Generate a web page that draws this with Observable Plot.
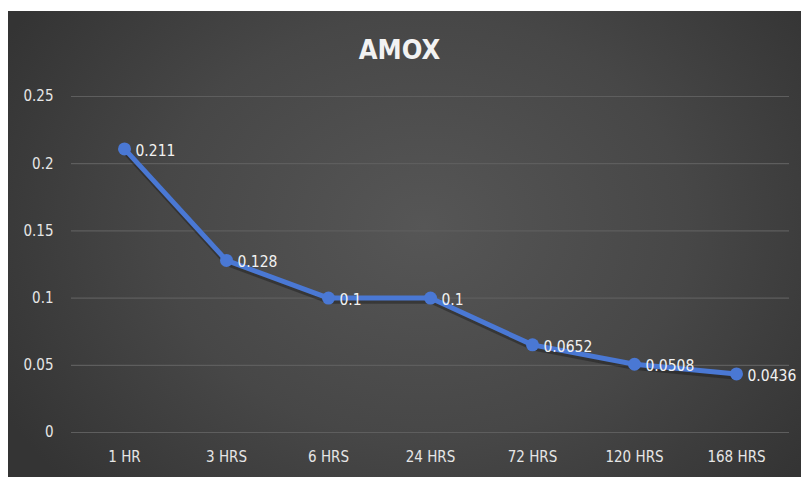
<!DOCTYPE html>
<html>
<head>
<meta charset="utf-8">
<script src="https://cdn.jsdelivr.net/npm/d3@7"></script>
<script src="https://cdn.jsdelivr.net/npm/@observablehq/plot@0.6"></script>
<style>
  html { margin: 0; padding: 0; background: #3a3a3a; }
  body { margin: 0; padding: 0; background: #3a3a3a; width: 801px; height: 477px; overflow: hidden; position: relative; }
  #frame {
    position: absolute; left: 8px; top: 11px; width: 800px; height: 480px; overflow: hidden;
    background: radial-gradient(ellipse 60% 80% at 52% 45%, #565656 0%, #474747 55%, #343434 100%);
  }
  #topstrip { position: absolute; left: 0; top: 0; width: 801px; height: 11px; background: #ffffff; }
  #leftstrip { position: absolute; left: 0; top: 0; width: 8px; height: 477px; background: #ffffff; }
  #title {
    height: 69px; line-height: 78px; text-align: center; color: #f2f2f2;
    font-family: "DejaVu Sans Condensed", "Liberation Sans Narrow", Roboto, sans-serif;
    font-weight: bold; font-size: 27px; width: 793px; padding-right: 10px; box-sizing: border-box;
  }
  #chart svg { display: block; overflow: visible; }
</style>
</head>
<body>
<div id="frame">
  <div id="title">AMOX</div>
  <div id="chart"></div>
</div>
<div id="topstrip"></div>
<div id="leftstrip"></div>
<script>
const categories = ["1 HR", "3 HRS", "6 HRS", "24 HRS", "72 HRS", "120 HRS", "168 HRS"];
const values = [0.211, 0.128, 0.1, 0.1, 0.0652, 0.0508, 0.0436];
const labels = ["0.211", "0.128", "0.1", "0.1", "0.0652", "0.0508", "0.0436"];
const yTicks = [0, 0.05, 0.1, 0.15, 0.2, 0.25];
const yTickLabels = ["0", "0.05", "0.1", "0.15", "0.2", "0.25"];

const data = categories.map((c, i) => ({cat: c, v: values[i], label: labels[i]}));
const font = '"DejaVu Sans Condensed", "Liberation Sans Narrow", Roboto, sans-serif';
const blue = "#4a78d4";

const chart = Plot.plot({
  width: 793,
  height: 397,
  marginTop: 16,
  marginBottom: 45,
  marginLeft: 63,
  marginRight: 12,
  style: {background: "transparent", fontFamily: font, fontSize: "15px", color: "#e6e6e6", overflow: "visible"},
  x: {type: "point", domain: categories, padding: 0.5, label: null},
  y: {domain: [0, 0.25], label: null},
  marks: [
    Plot.ruleY(yTicks, {stroke: "#5e5e5e", strokeWidth: 1.2}),
    Plot.line(data, {x: "cat", y: "v", stroke: "#1b1b1b", strokeOpacity: 0.45, strokeWidth: 6.5, dy: 2.5, dx: 1}),
    Plot.line(data, {x: "cat", y: "v", stroke: blue, strokeWidth: 5}),
    Plot.dot(data, {x: "cat", y: "v", r: 6.5, fill: blue, stroke: "none"}),
    Plot.text(data, {x: "cat", y: "v", text: "label", textAnchor: "start", dx: 11, dy: 2, fill: "#f2f2f2", fontSize: 15.5}),
    Plot.axisY({ticks: yTicks, tickFormat: d => yTickLabels[yTicks.indexOf(d)], tickSize: 0, tickPadding: 18, fill: "#e6e6e6", fontSize: 15, label: null}),
    Plot.axisX({tickSize: 0, tickPadding: 19, fill: "#e6e6e6", fontSize: 15, label: null})
  ]
});
d3.select(chart).selectAll('g[aria-label$="tick label"]').attr("font-size", 15).style("font-size", "15px");
document.getElementById("chart").appendChild(chart);
</script>
</body>
</html>
